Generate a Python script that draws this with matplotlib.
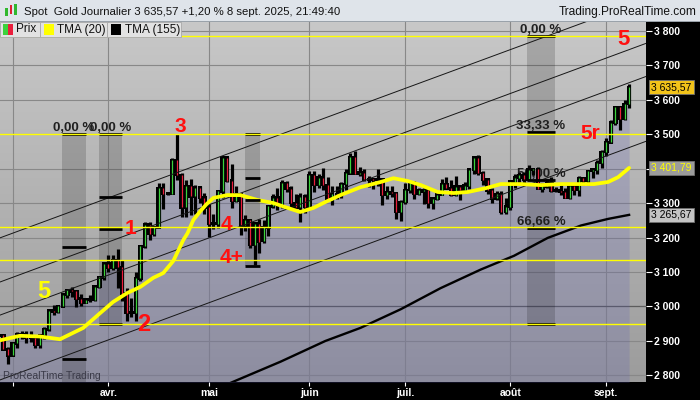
#!/usr/bin/env python
import numpy as np
import matplotlib as mpl
mpl.use('Agg')
import matplotlib.pyplot as plt  # noqa
from matplotlib.patches import Rectangle  # noqa
from matplotlib.colors import LinearSegmentedColormap  # noqa

plt.rcParams['font.family'] = ['Liberation Sans', 'DejaVu Sans']

W, H = 700, 400

# daily candles, one step per trading day, index 0 = 3 March 2025
first_day = -3
opens = [2915, 2916, 2876,
         2858, 2893, 2918, 2920, 2910, 2910, 2889, 2916, 2934, 2988,
         2984, 3001, 3034, 3048, 3044, 3023, 3011, 3020, 3019, 3057,
         3085, 3124, 3113, 3134, 3114, 3037, 2982, 2982, 3082, 3175,
         3237, 3210, 3230, 3343, 3327, 3327, 3424, 3381, 3288, 3349,
         3319, 3344, 3316, 3288, 3239, 3240, 3334, 3431, 3365, 3306,
         3325, 3235, 3250, 3178, 3240, 3190, 3230, 3290, 3315, 3295,
         3357, 3342, 3300, 3288, 3318, 3289, 3380, 3353, 3373, 3352,
         3310, 3326, 3323, 3355, 3386, 3433, 3385, 3388, 3369, 3369,
         3368, 3368, 3323, 3332, 3328, 3274, 3303, 3338, 3357, 3326,
         3334, 3337, 3301, 3313, 3324, 3355, 3343, 3324, 3347, 3338,
         3350, 3397, 3431, 3387, 3368, 3337, 3314, 3326, 3274, 3289,
         3362, 3373, 3381, 3369, 3397, 3398, 3341, 3348, 3356, 3335,
         3336, 3332, 3315, 3348, 3339, 3372, 3365, 3393, 3397, 3416,
         3448, 3476, 3533, 3578, 3545, 3587]
highs = [2927, 2917, 2882,
         2897, 2927, 2930, 2930, 2930, 2915, 2921, 2940, 2990, 3005,
         3004, 3038, 3048, 3057, 3047, 3036, 3026, 3033, 3059, 3087,
         3128, 3149, 3148, 3168, 3136, 3055, 3024, 3099, 3176, 3245,
         3245, 3230, 3357, 3357, 3330, 3430, 3500, 3386, 3368, 3371,
         3351, 3348, 3328, 3298, 3269, 3335, 3437, 3434, 3414, 3348,
         3327, 3264, 3254, 3240, 3253, 3250, 3295, 3325, 3345, 3366,
         3365, 3350, 3325, 3330, 3325, 3392, 3392, 3385, 3403, 3375,
         3348, 3349, 3360, 3398, 3446, 3451, 3404, 3398, 3378, 3374,
         3398, 3370, 3348, 3350, 3329, 3309, 3358, 3365, 3365, 3343,
         3345, 3346, 3317, 3330, 3369, 3375, 3366, 3377, 3352, 3361,
         3402, 3433, 3439, 3394, 3373, 3345, 3334, 3334, 3315, 3363,
         3385, 3391, 3391, 3409, 3400, 3405, 3358, 3370, 3375, 3346,
         3358, 3345, 3351, 3352, 3379, 3376, 3394, 3398, 3424, 3453,
         3489, 3540, 3578, 3579, 3600, 3646]
lows = [2898, 2873, 2833,
        2856, 2880, 2905, 2894, 2897, 2880, 2880, 2906, 2930, 2975,
        2982, 2999, 3025, 3028, 2999, 3002, 3010, 3013, 3016, 3055,
        3076, 3100, 3105, 3054, 3015, 2957, 2970, 2957, 3073, 3169,
        3194, 3205, 3228, 3284, 3322, 3325, 3367, 3260, 3260, 3265,
        3268, 3300, 3269, 3202, 3226, 3228, 3314, 3360, 3286, 3302,
        3208, 3218, 3171, 3121, 3155, 3185, 3204, 3285, 3280, 3287,
        3331, 3285, 3285, 3245, 3271, 3288, 3333, 3345, 3339, 3306,
        3293, 3313, 3314, 3339, 3383, 3384, 3378, 3363, 3347, 3341,
        3348, 3295, 3311, 3317, 3255, 3247, 3296, 3330, 3311, 3322,
        3296, 3287, 3282, 3310, 3322, 3341, 3320, 3319, 3309, 3333,
        3340, 3384, 3381, 3351, 3325, 3301, 3309, 3268, 3268, 3281,
        3345, 3354, 3358, 3367, 3381, 3341, 3331, 3344, 3331, 3331,
        3323, 3315, 3311, 3324, 3321, 3351, 3352, 3372, 3385, 3402,
        3436, 3475, 3525, 3511, 3540, 3577]
closes = [2916, 2876, 2858,
          2893, 2918, 2920, 2910, 2910, 2889, 2916, 2934, 2988, 2984,
          3001, 3034, 3048, 3044, 3023, 3011, 3020, 3019, 3057, 3085,
          3124, 3113, 3134, 3114, 3037, 2982, 2982, 3082, 3175, 3237,
          3210, 3230, 3343, 3327, 3327, 3424, 3381, 3288, 3349, 3319,
          3344, 3316, 3288, 3239, 3240, 3334, 3431, 3365, 3306, 3325,
          3235, 3250, 3178, 3240, 3187, 3230, 3290, 3315, 3295, 3357,
          3342, 3300, 3288, 3318, 3289, 3380, 3353, 3373, 3352, 3310,
          3326, 3323, 3355, 3386, 3433, 3385, 3388, 3369, 3369, 3368,
          3368, 3323, 3332, 3328, 3274, 3303, 3338, 3357, 3326, 3337,
          3337, 3301, 3313, 3324, 3355, 3343, 3324, 3347, 3338, 3350,
          3397, 3431, 3387, 3368, 3337, 3314, 3326, 3274, 3289, 3362,
          3373, 3381, 3369, 3397, 3398, 3341, 3348, 3356, 3335, 3336,
          3332, 3315, 3348, 3339, 3372, 3365, 3393, 3397, 3416, 3448,
          3476, 3533, 3578, 3545, 3587, 3635.57]

month_idx = [0, 21, 43, 65, 86, 109, 130]
month_labels = ['', 'avr.', 'mai', 'juin', 'juil.', 'août', 'sept.']
price_ticks = list(range(2800, 3801, 100))

# indicator values
tma20_idx = [-2.7, 1.6, 6.0, 10.4, 15.5, 19.2, 22.0, 25.1, 28.0, 30.8,
             33.0, 35.2, 37.4, 38.3, 39.6, 41.1, 42.5, 44.0, 47.0, 49.9,
             53.6, 57.1, 60.2, 63.0, 65.9, 68.5, 71.8, 76.2, 80.6, 83.4,
             86.5, 89.4, 93.1, 96.6, 99.7, 103.6, 106.9, 111.3, 115.7,
             120.1, 124.5, 127.3, 130.4, 132.6, 135.0]
tma20_val = [2902, 2915, 2913, 2905, 2938, 2981, 3013, 3039, 3057, 3083,
             3097, 3132, 3193, 3212, 3251, 3276, 3297, 3315, 3323, 3323,
             3309, 3300, 3286, 3274, 3286, 3303, 3323, 3346, 3361, 3372,
             3364, 3352, 3332, 3329, 3332, 3343, 3355, 3355, 3352,
             3355, 3355, 3355, 3361, 3375, 3401.79]
tma155_idx = [47.3, 58.7, 68.5, 76.2, 85.0, 93.7, 102.5, 109.8, 117.2,
              124.5, 130.4, 135.0]
tma155_val = [2776, 2840, 2900, 2938, 2992, 3053, 3107, 3147, 3199,
              3235, 3254, 3265.67]

# horizontal yellow levels
levels = [3785, 3500, 3231, 3135, 2949]

# parallel trend channel, values at the left and right edges
chan_idx = [-2.74, 138.7]
chan_start = [3199, 3071, 2975, 2787]
chan_end = [3890, 3763, 3667, 3479]

# retracement boxes
fib_x0 = [10.85, 19.0, 50.8, 112.6]
fib_x1 = [16.1, 24.0, 54.1, 118.75]
fib_top = [3500, 3500, 3500, 3785]
fib_bottom = [2520, 2950, 3118, 2950]
fib_marks = [[0, 33.33, 66.66], [0, 33.33, 50, 100], [0, 33.33, 50, 100],
             [0, 33.33, 50, 66.66, 100]]
fib_labelled = [[0], [0], [], [0, 33.33, 50, 66.66]]

# wave count
wave_text = ['1', '2', '3', '4', '4+', '5', '5', '5r']
wave_idx = [25.9, 28.8, 36.8, 46.8, 47.9, 6.9, 133.7, 126.4]
wave_val = [3210, 2929, 3505, 3222, 3126, 3025, 3759, 3485]
wave_color = ['#ff1010'] * 5 + ['#ffff00', '#ff1010', '#ff1010']
wave_size = [15, 17, 15, 15, 15, 17, 16, 15]


def fr(v):
    return '{:,.2f}'.format(v).replace(',', ' ').replace('.', ',')


def px_rect(x, y, w, h, **kw):
    fig.add_artist(Rectangle((x / W, 1 - (y + h) / H), w / W, h / H,
                             transform=fig.transFigure, **kw))


fig = plt.figure(figsize=(W / 100, H / 100), dpi=100, facecolor='black')
ax = fig.add_axes([0, 18 / H, 646 / W, 360 / H])
for s in ax.spines.values():
    s.set_visible(False)

bg = LinearSegmentedColormap.from_list('bg', ['#9c9c9c', '#c8c8c8'])
ax.imshow(np.linspace(1, 0, 256).reshape(-1, 1), extent=(0, 1, 0, 1),
          transform=ax.transAxes, cmap=bg, aspect='auto', zorder=0)
ax.set_xlim(-2.74, 138.7)
ax.set_ylim(2781, 3825)

ax.set_axisbelow(True)
ax.grid(True, color='#888888', lw=0.8)
ax.axhline(3000, color='#5c5c5c', lw=0.9, zorder=0.6)

x = np.arange(first_day, first_day + len(closes))
o, h, lo, c = (np.array(a, dtype=float) for a in (opens, highs, lows, closes))

ax.fill_between(x, c, 2700, color='#5656b4', alpha=0.2, lw=0, zorder=1)

for x0, x1, top, bot, marks, lab in zip(fib_x0, fib_x1, fib_top, fib_bottom,
                                        fib_marks, fib_labelled):
    ax.add_patch(Rectangle((x0, bot), x1 - x0, top - bot, fc='black',
                           alpha=0.16, ec='none', zorder=2))
    for m in marks:
        ax.hlines(top - m / 100 * (top - bot), x0, x1, color='black',
                  lw=2.0, zorder=6.5)
    for m in lab:
        ax.text((x0 + x1) / 2, top - m / 100 * (top - bot),
                '{:.2f} %'.format(m).replace('.', ','), ha='center',
                va='bottom', fontsize=9.5, fontweight='bold',
                color='#202020', zorder=3)

# candles: heavy black bar, thin coloured body line inside
body_lo = np.minimum(o, c)
body_hi = np.maximum(o, c)
ax.vlines(x, lo, h, color='black', lw=2.3, zorder=4)
ax.bar(x, body_hi - body_lo + 8, bottom=body_lo - 4, width=0.98,
       color='black', lw=0, zorder=4)
ax.vlines(x, body_lo, body_hi, lw=0.9, zorder=5,
          colors=['#3cd23c' if up else '#ea1e3c' for up in c >= o])

for s, e in zip(chan_start, chan_end):
    ax.plot(chan_idx, [s, e], color='#161616', lw=0.7, zorder=6)

ax.plot(tma155_idx, tma155_val, color='black', lw=1.7, zorder=6)
ax.plot(tma20_idx, tma20_val, color='#ffff00', lw=2.7,
        solid_capstyle='round', zorder=6.2)

for v in levels:
    ax.axhline(v, color='#ffff00', lw=1.0, zorder=7)

for t, xi, v, col, sz in zip(wave_text, wave_idx, wave_val, wave_color,
                             wave_size):
    ax.text(xi, v, t, ha='center', va='baseline', fontsize=sz,
            fontweight='bold', color=col, zorder=9)

ax.text(0.004, 0.008, 'ProRealTime Trading', transform=ax.transAxes,
        fontsize=7.5, color='#3a3a48', zorder=9)

# axes ticks, the 3 400 label sits under the TMA (20) box
ax.set_yticks(price_ticks)
ax.set_yticklabels(['' if v == 3400 else '{:,}'.format(v).replace(',', ' ')
                    for v in price_ticks])
ax.yaxis.tick_right()
ax.tick_params(axis='y', colors='white', length=4, width=0.8, pad=2,
               labelsize=7.5)
ax.set_xticks(month_idx)
ax.set_xticklabels(month_labels)
ax.tick_params(axis='x', colors='white', length=3, width=0.8, pad=1.5,
               labelsize=7.5)
for t in ax.get_xticklabels() + ax.get_yticklabels():
    t.set_fontweight('bold')

# value boxes on the price scale
for val, fc, tc in [(closes[-1], '#f2c31a', 'black'),
                    (tma20_val[-1], '#9c9c9c', '#ffff00'),
                    (tma155_val[-1], '#c4c4c4', 'black')]:
    ax.text(1.0085, val, fr(val), transform=ax.get_yaxis_transform(),
            ha='left', va='center', fontsize=7.5, color=tc, clip_on=False,
            zorder=10, bbox=dict(boxstyle='square,pad=0.2', fc=fc,
                                 ec='#707070', lw=0.6))

# title bar
px_rect(0, 0, 700, 21.5, fc='#dfe4ea', ec='none', zorder=5)
px_rect(0, 21, 700, 1, fc='#9aa2aa', ec='none', zorder=5)
for xi, col, y0, hh in [(5, '#2fb82f', 8, 8), (9.5, '#e02030', 5, 9),
                        (14, '#2fb82f', 4, 11)]:
    px_rect(xi, y0, 2.5, hh, fc=col, ec='none', zorder=6)
fig.text(24 / W, 1 - 12 / H,
         'Spot  Gold Journalier {} +1,20 % 8 sept. 2025, 21:49:40'
         .format(fr(closes[-1])), fontsize=8.2, va='center',
         color='#111111', zorder=8)
fig.text(697 / W, 1 - 12.5 / H, 'Trading.ProRealTime.com', ha='right',
         va='center', fontsize=8.6, color='#111111', zorder=8)

# legend row
for bx, bw, col, label, tx in [(0, 40, None, 'Prix', 16),
                               (40, 67, '#ffff00', 'TMA (20)', 57),
                               (107, 74, '#000000', 'TMA (155)', 125)]:
    px_rect(bx, 22, bw, 14.5, fc='#e2e2e2', ec='#a8a8a8', lw=0.6, zorder=6)
    if col is None:
        px_rect(3, 24.5, 5, 10, fc='#3cd23c', ec='none', zorder=7)
        px_rect(8, 24.5, 5, 10, fc='#ea1e3c', ec='none', zorder=7)
    else:
        px_rect(bx + 3.5, 24.5, 10, 10, fc=col, ec='none', zorder=7)
    fig.text(tx / W, 1 - 29.5 / H, label, fontsize=8.5, va='center',
             color='#111111', zorder=8)

fig.savefig('out.png', dpi=100, facecolor='black')
